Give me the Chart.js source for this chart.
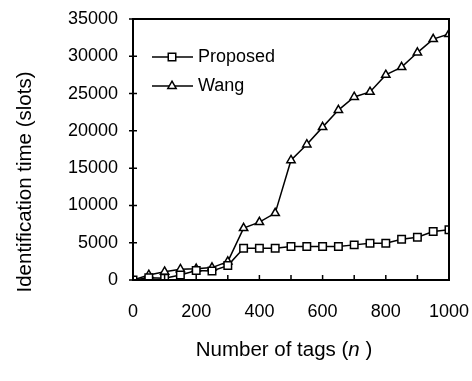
<!DOCTYPE html>
<html>
<head>
<meta charset="utf-8">
<script src="https://cdn.jsdelivr.net/npm/chart.js@4/dist/chart.umd.min.js"></script>
<style>
  html, body { margin: 0; padding: 0; background: #fff; }
  #wrap { width: 472px; height: 381px; }
</style>
</head>
<body>
<div id="wrap"><canvas id="chart"></canvas></div>
<script>
// Data
const tags = [0, 50, 100, 150, 200, 250, 300, 350, 400, 450, 500, 550, 600, 650, 700, 750, 800, 850, 900, 950, 1000];
const proposed = [0, 300, 250, 670, 1260, 1210, 1930, 4260, 4260, 4260, 4490, 4490, 4490, 4490, 4710, 4940, 4940, 5470, 5740, 6500, 6730];
const wang = [0, 670, 1100, 1440, 1500, 1660, 2470, 6950, 7760, 8970, 16060, 18170, 20500, 22790, 24540, 25220, 27500, 28540, 30500, 32300, 32980];
const xTickLabels = [0, 200, 400, 600, 800, 1000];
const yTickLabels = [0, 5000, 10000, 15000, 20000, 25000, 30000, 35000];

const FONT = "'Liberation Sans', Arial, sans-serif";

function toPoints(ys) {
    return tags.map((x, i) => ({ x: x, y: ys[i] }));
}

// box, tick marks, axis titles and the legend inside the plot
const decorations = {
    id: "decorations",
    afterDraw(chart) {
        const ctx = chart.ctx;
        const a = chart.chartArea;
        const xs = chart.scales.x, ys = chart.scales.y;
        ctx.save();
        ctx.strokeStyle = "#000";
        ctx.lineWidth = 2;
        ctx.strokeRect(a.left, a.top, a.right - a.left, a.bottom - a.top);

        ctx.lineWidth = 1.5;
        ctx.beginPath();
        for (let v = 100; v < 1000; v += 100) {
            const px = xs.getPixelForValue(v);
            ctx.moveTo(px, a.bottom);
            ctx.lineTo(px, a.bottom - 5);
        }
        yTickLabels.forEach(v => {
            const py = ys.getPixelForValue(v);
            ctx.moveTo(a.left - 4, py);
            ctx.lineTo(a.left + 4, py);
        });
        ctx.stroke();

        // axis titles
        const TF = "20.5px " + FONT;
        const TFI = "italic 20.5px " + FONT;
        ctx.fillStyle = "#000";
        ctx.font = TF;
        ctx.textBaseline = "middle";
        ctx.textAlign = "left";
        const t1 = "Number of tags (";
        const t2 = "n";
        const t3 = " )";
        const w1 = ctx.measureText(t1).width;
        ctx.font = TFI;
        const w2 = ctx.measureText(t2).width;
        ctx.font = TF;
        const w3 = ctx.measureText(t3).width;
        let tx = 284 - (w1 + w2 + w3) / 2;
        const ty = 350;
        ctx.fillText(t1, tx, ty);
        ctx.font = TFI;
        ctx.fillText(t2, tx + w1, ty);
        ctx.font = TF;
        ctx.fillText(t3, tx + w1 + w2, ty);

        ctx.save();
        ctx.translate(25, 182);
        ctx.rotate(-Math.PI / 2);
        ctx.textAlign = "center";
        ctx.fillText("Identification time (slots)", 0, 0);
        ctx.restore();

        // legend
        const rows = [
            { label: "Proposed", y: 57, ds: 0 },
            { label: "Wang", y: 86, ds: 1 }
        ];
        rows.forEach(r => {
            const d = chart.data.datasets[r.ds];
            ctx.strokeStyle = "#000";
            ctx.lineWidth = 1.5;
            ctx.beginPath();
            ctx.moveTo(152, r.y);
            ctx.lineTo(193, r.y);
            ctx.stroke();
            ctx.fillStyle = "#fff";
            Chart.helpers.drawPoint(ctx, {
                pointStyle: d.pointStyle,
                radius: d.pointRadius,
                borderWidth: d.pointBorderWidth,
                rotation: 0
            }, 172, r.y);
            ctx.fillStyle = "#000";
            ctx.font = "18px " + FONT;
            ctx.textAlign = "left";
            ctx.fillText(r.label, 198, r.y);
        });
        ctx.restore();
    }
};

const commonSet = {
    borderColor: "#000",
    borderWidth: 1.5,
    pointBackgroundColor: "#fff",
    pointBorderColor: "#000",
    pointBorderWidth: 1.5,
    tension: 0
};

new Chart(document.getElementById("chart").getContext("2d"), {
    type: "line",
    data: {
        datasets: [
            Object.assign({ label: "Proposed", data: toPoints(proposed), pointStyle: "rect", pointRadius: 5.3 }, commonSet),
            Object.assign({ label: "Wang", data: toPoints(wang), pointStyle: "triangle", pointRadius: 4.8 }, commonSet)
        ]
    },
    options: {
        responsive: true,
        maintainAspectRatio: false,
        animation: false,
        layout: { padding: 0 },
        plugins: { legend: { display: false }, tooltip: { enabled: false } },
        scales: {
            x: {
                type: "linear",
                min: 0, max: 1000,
                afterFit: s => { s.height = 101; s.paddingLeft = 0; s.paddingRight = 23; },
                afterBuildTicks: s => { s.ticks = xTickLabels.map(v => ({ value: v })); },
                grid: { display: false, drawTicks: false },
                border: { display: false },
                ticks: { color: "#000", padding: 21, maxRotation: 0, font: { family: FONT, size: 18 }, callback: v => String(v) }
            },
            y: {
                min: 0, max: 35000,
                afterFit: s => { s.width = 133; s.paddingTop = 19; s.paddingBottom = 0; },
                afterBuildTicks: s => { s.ticks = yTickLabels.map(v => ({ value: v })); },
                grid: { display: false, drawTicks: false },
                border: { display: false },
                ticks: { color: "#000", padding: 15, font: { family: FONT, size: 18 }, callback: v => String(v) }
            }
        }
    },
    plugins: [decorations]
});
</script>
</body>
</html>
